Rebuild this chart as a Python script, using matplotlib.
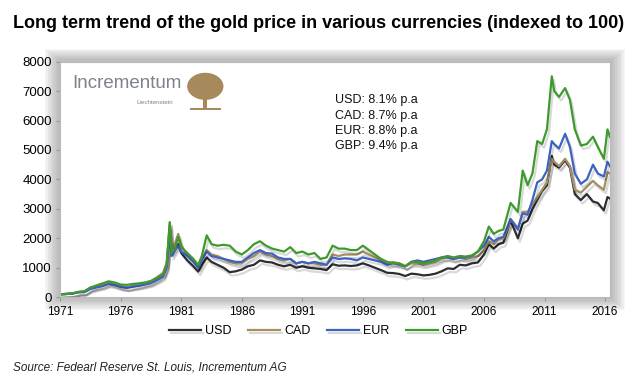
import matplotlib.pyplot as plt
import matplotlib.patheffects as pe
from matplotlib.patches import FancyBboxPatch, Ellipse, Rectangle

# decimal years and indexed gold price (1971 = 100)
years = [1971.0, 1971.5, 1972.0, 1972.5, 1973.0, 1973.5, 1974.0, 1974.5, 1975.0, 1975.5,
         1976.0, 1976.5, 1977.0, 1977.5, 1978.0, 1978.5, 1979.0, 1979.5, 1979.8, 1980.05,
         1980.2, 1980.5, 1980.75, 1981.0, 1981.5, 1982.0, 1982.4, 1982.7, 1983.1, 1983.5,
         1984.0, 1984.5, 1985.0, 1985.5, 1986.0, 1986.5, 1987.0, 1987.5, 1988.0, 1988.5,
         1989.0, 1989.5, 1990.0, 1990.5, 1991.0, 1991.5, 1992.0, 1992.5, 1993.0, 1993.5,
         1994.0, 1994.5, 1995.0, 1995.5, 1996.0, 1996.5, 1997.0, 1997.5, 1998.0, 1998.5,
         1999.0, 1999.5, 2000.0, 2000.5, 2001.0, 2001.5, 2002.0, 2002.5, 2003.0, 2003.5,
         2004.0, 2004.5, 2005.0, 2005.5, 2006.0, 2006.4, 2006.8, 2007.2, 2007.6, 2008.0,
         2008.2, 2008.8, 2009.2, 2009.6, 2010.0, 2010.4, 2010.8, 2011.2, 2011.6, 2011.8,
         2012.2, 2012.7, 2013.1, 2013.5, 2014.0, 2014.5, 2015.0, 2015.4, 2015.9, 2016.2,
         2016.4]

usd = [100, 110, 125, 175, 185, 320, 370, 420, 500, 450,
       370, 330, 370, 400, 450, 500, 620, 760, 1100, 2400,
       1550, 1700, 1800, 1500, 1250, 1050, 870, 1100, 1350, 1200,
       1100, 1000, 850, 880, 940, 1050, 1100, 1250, 1200, 1180,
       1100, 1050, 1100, 1000, 1050, 1000, 980, 960, 920, 1120,
       1070, 1080, 1060, 1080, 1150, 1080, 1000, 920, 830, 820,
       790, 720, 800, 780, 740, 760, 800, 880, 980, 960,
       1100, 1080, 1150, 1180, 1450, 1800, 1650, 1800, 1850, 2350,
       2600, 2000, 2500, 2600, 3000, 3300, 3600, 3800, 4800, 4500,
       4400, 4650, 4400, 3500, 3300, 3500, 3250, 3200, 2950, 3400,
       3350]

cad = [100, 110, 125, 175, 185, 315, 365, 410, 490, 445,
       370, 335, 375, 420, 480, 550, 680, 830, 1180, 2500,
       1650, 1850, 2150, 1750, 1450, 1250, 1020, 1300, 1600, 1450,
       1400, 1300, 1200, 1150, 1150, 1300, 1400, 1550, 1450, 1400,
       1300, 1250, 1300, 1150, 1200, 1150, 1150, 1100, 1100, 1450,
       1400, 1450, 1450, 1450, 1550, 1450, 1350, 1250, 1150, 1200,
       1150, 1050, 1150, 1150, 1100, 1150, 1200, 1300, 1350, 1300,
       1350, 1300, 1350, 1400, 1600, 1900, 1800, 1950, 2000, 2400,
       2650, 2350, 2900, 2900, 3150, 3400, 3650, 3900, 4700, 4600,
       4450, 4700, 4450, 3650, 3550, 3750, 3950, 3800, 3650, 4250,
       4200]

eur = [100, 108, 120, 165, 170, 280, 330, 380, 450, 410,
       350, 320, 360, 390, 430, 480, 580, 700, 1000, 2150,
       1400, 1600, 1750, 1550, 1400, 1200, 1000, 1250, 1550, 1400,
       1350, 1300, 1250, 1200, 1200, 1350, 1500, 1600, 1500, 1480,
       1350, 1300, 1300, 1150, 1200, 1150, 1200, 1150, 1100, 1350,
       1300, 1320, 1300, 1250, 1350, 1300, 1250, 1200, 1100, 1150,
       1100, 1050, 1200, 1250, 1200, 1250, 1300, 1350, 1350, 1300,
       1350, 1350, 1400, 1550, 1750, 2050, 1900, 2000, 2050, 2450,
       2650, 2300, 2850, 2800, 3300, 3900, 4000, 4300, 5300, 5200,
       5050, 5550, 5100, 4200, 3850, 4000, 4500, 4200, 4100, 4600,
       4450]

gbp = [100, 112, 128, 180, 200, 330, 400, 470, 540, 500,
       430, 420, 450, 470, 500, 550, 650, 780, 1100, 2550,
       1500, 1700, 2050, 1700, 1500, 1300, 1100, 1400, 2100, 1800,
       1750, 1780, 1750, 1550, 1450, 1600, 1800, 1900, 1750, 1650,
       1600, 1550, 1700, 1500, 1550, 1450, 1500, 1300, 1350, 1750,
       1650, 1650, 1600, 1600, 1750, 1600, 1450, 1300, 1200, 1150,
       1150, 1050, 1200, 1200, 1150, 1200, 1250, 1350, 1400, 1350,
       1400, 1380, 1420, 1550, 1900, 2400, 2150, 2250, 2300, 2900,
       3200, 2900, 4300, 3800, 4200, 5300, 5200, 5700, 7500, 7000,
       6800, 7100, 6700, 5700, 5150, 5200, 5450, 5100, 4700, 5700,
       5450]

series = ["USD", "CAD", "EUR", "GBP"]
colors = ["#2b2d33", "#a48e62", "#3d62c2", "#3e9a2c"]
rates = ["8.1%", "8.7%", "8.8%", "9.4%"]
xticks = list(range(1971, 2017, 5))
yticks = list(range(0, 8001, 1000))

plt.rcParams['font.family'] = ['Liberation Sans', 'DejaVu Sans']

fig = plt.figure(figsize=(6.4, 3.85), dpi=100)
ax = fig.add_axes([0.094, 0.228, 0.859, 0.612])
ax.set_zorder(2)
ax.set_facecolor("white")

# soft grey shadow frame around the plot box
for i in range(10):
    pad = 0.004 + i * 0.0022
    fig.patches.append(FancyBboxPatch((0.094 - pad, 0.228 - pad * 1.4), 0.859 + 2 * pad,
                                      0.612 + 2 * pad * 1.4, boxstyle="square,pad=0",
                                      transform=fig.transFigure, facecolor="#8a8a8a",
                                      edgecolor="none", alpha=0.07, zorder=0))

for vals, name, c in zip([usd, cad, eur, gbp], series, colors):
    ax.plot(years, vals, color=c, lw=1.6, label=name,
            path_effects=[pe.SimpleLineShadow(offset=(1.5, -2.5), alpha=0.15, rho=0.6),
                          pe.Normal()])

ax.set_xlim(1971, 2016.4)
ax.set_ylim(0, 8000)
ax.set_xticks(xticks)
ax.set_yticks(yticks)
ax.tick_params(axis='x', labelsize=8.5, length=3, color="#999999", pad=3)
ax.tick_params(axis='y', labelsize=9.5, length=3, color="#999999", pad=3)
for s in ax.spines.values():
    s.set_color("#bbbbbb")

# logo
ax.text(0.022, 0.905, "Incrementum", transform=ax.transAxes, fontsize=13.5,
        color="#7d838b", va="center")
ax.text(0.205, 0.825, "Liechtenstein", transform=ax.transAxes, fontsize=4.5,
        color="#7d838b", ha="right", va="center")
tree = "#a68a5c"
ax.add_patch(Ellipse((0.264, 0.895), 0.066, 0.115, transform=ax.transAxes,
                     facecolor=tree, edgecolor="none"))
ax.add_patch(Rectangle((0.260, 0.80), 0.008, 0.06, transform=ax.transAxes,
                       facecolor=tree, edgecolor="none"))
ax.add_patch(Rectangle((0.236, 0.795), 0.056, 0.007, transform=ax.transAxes,
                       facecolor=tree, edgecolor="none"))

# annual growth rates
for i, (name, r) in enumerate(zip(series, rates)):
    ax.text(0.575, 0.835 - i * 0.064, f"{name}: {r} p.a", transform=ax.transAxes,
            fontsize=9, ha="center", va="center", color="#111111")

ax.legend(loc="upper center", bbox_to_anchor=(0.47, -0.07), ncol=4, frameon=False,
          fontsize=9, handlelength=2.6, columnspacing=1.3, handletextpad=0.3)

fig.text(0.02, 0.94, "Long term trend of the gold price in various currencies (indexed to 100)",
         fontsize=13, fontweight="bold", va="center")
fig.text(0.02, 0.045, "Source: Fedearl Reserve St. Louis, Incrementum AG",
         fontsize=8.5, style="italic", va="center", color="#222222")

fig.savefig("out.png", dpi=100, facecolor="white")
